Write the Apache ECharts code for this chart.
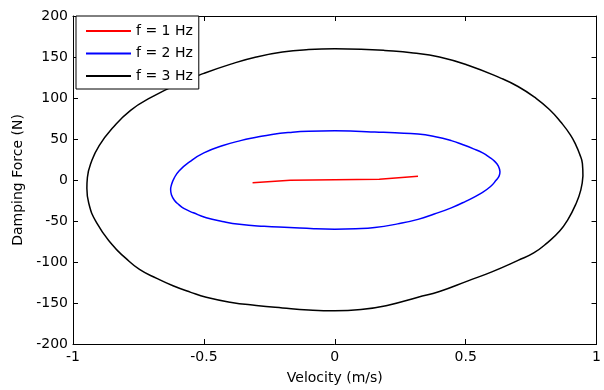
<!DOCTYPE html>
<html>
<head>
<meta charset="utf-8">
<script src="https://cdn.jsdelivr.net/npm/echarts@6/dist/echarts.min.js"></script>
<style>
  html, body { margin: 0; padding: 0; background: #fff; }
  #chart { width: 604px; height: 390px; }
</style>
</head>
<body>
<div id="chart"></div>
<script>
// velocity (m/s), damping force (N)
const xTicks = [-1, -0.5, 0, 0.5, 1]
const yTicks = [-200, -150, -100, -50, 0, 50, 100, 150, 200]

const seriesNames = ['f = 1 Hz', 'f = 2 Hz', 'f = 3 Hz']
const seriesColors = ['#ff0000', '#0000ff', '#000000']

const f1Vel = [-0.314, -0.17, 0, 0.17, 0.318]
const f1Force = [-3.4, -0.3, 0.3, 0.8, 4.6]

const f2Vel = [0.631, 0.625, 0.61, 0.59, 0.565, 0.53, 0.49, 0.445, 0.38, 0.318, 0.23, 0.153, 0.08, 0, -0.1, -0.173, -0.24, -0.3, -0.36, -0.427, -0.5, -0.555, -0.595, -0.614, -0.624, -0.627, -0.624, -0.612, -0.596, -0.575, -0.54, -0.491, -0.43, -0.364, -0.27, -0.173, -0.08, 0, 0.08, 0.153, 0.24, 0.318, 0.38, 0.445, 0.5, 0.56, 0.595, 0.617, 0.628, 0.631]
const f2Force = [10, 17, 23, 28, 33, 38, 43, 48, 53, 56, 57.5, 58.5, 59.5, 60, 59.5, 58, 55.5, 52, 48, 42, 33, 22, 11, 2, -6, -12, -18, -25, -30, -35, -40, -46, -50.5, -54, -56.5, -58, -59.5, -60, -59.5, -58, -53.5, -48, -41.5, -34, -26, -16, -8, 0, 5, 10]

const f3Vel = [0.948, 0.946, 0.935, 0.922, 0.9, 0.865, 0.82, 0.763, 0.7, 0.636, 0.509, 0.4, 0.3, 0.191, 0.1, 0, -0.1, -0.2, -0.3, -0.4, -0.5, -0.6, -0.7, -0.78, -0.85, -0.9, -0.93, -0.945, -0.947, -0.94, -0.91, -0.85, -0.8, -0.746, -0.68, -0.618, -0.55, -0.491, -0.4, -0.3, -0.2, -0.1, 0, 0.1, 0.2, 0.318, 0.4, 0.509, 0.6, 0.7, 0.76, 0.814, 0.86, 0.891, 0.92, 0.94, 0.948]
const f3Force = [5, 20, 32, 42, 55, 70, 86, 101, 114, 124, 140, 150, 155, 158, 159.5, 160, 159, 156, 150, 141, 130, 117, 101, 85, 63, 42, 22, 3, -10, -28, -52, -79, -95, -109, -120, -129, -137, -143, -149, -153, -156, -158.5, -159.5, -158, -153, -143, -136, -123, -112, -98, -89, -76, -62, -48, -30, -12, 5]

const pairs = (xs, ys) => xs.map((x, i) => [x, ys[i]])
const allData = [pairs(f1Vel, f1Force), pairs(f2Vel, f2Force), pairs(f3Vel, f3Force)]

const font = 'DejaVu Sans, sans-serif'
const axisLine = { show: true, onZero: false, lineStyle: { color: '#000', width: 1 } }
const tick = { show: true, inside: true, length: 5, lineStyle: { color: '#000' } }

const myChart = echarts.init(document.getElementById('chart'))
myChart.setOption({
  backgroundColor: '#fff',
  animation: false,
  textStyle: { fontFamily: font },
  grid: { left: 73, right: 7, top: 16, bottom: 45 },
  legend: {
    orient: 'vertical',
    left: 76,
    top: 16,
    padding: [8, 6, 6, 9],
    itemGap: 8.5,
    itemWidth: 45,
    itemHeight: 14,
    backgroundColor: '#fff',
    borderColor: '#000',
    borderWidth: 1,
    itemStyle: { opacity: 0 },
    textStyle: { fontSize: 14, color: '#000', fontFamily: font },
    data: seriesNames,
  },
  xAxis: [
    {
      type: 'value',
      min: xTicks[0],
      max: xTicks[xTicks.length - 1],
      interval: 0.5,
      name: 'Velocity (m/s)',
      nameLocation: 'middle',
      nameGap: 27,
      nameTextStyle: { fontSize: 14, color: '#000' },
      axisLine: axisLine,
      axisTick: tick,
      splitLine: { show: false },
      axisLabel: { fontSize: 14, color: '#000', margin: 6, formatter: (v) => String(v) },
    },
    {
      type: 'value',
      position: 'top',
      min: xTicks[0],
      max: xTicks[xTicks.length - 1],
      interval: 0.5,
      axisLine: axisLine,
      axisTick: tick,
      splitLine: { show: false },
      axisLabel: { show: false },
    },
  ],
  yAxis: [
    {
      type: 'value',
      min: yTicks[0],
      max: yTicks[yTicks.length - 1],
      interval: 50,
      name: 'Damping Force (N)',
      nameLocation: 'middle',
      nameGap: 47,
      nameTextStyle: { fontSize: 14, color: '#000' },
      axisLine: axisLine,
      axisTick: tick,
      splitLine: { show: false },
      axisLabel: { fontSize: 14, color: '#000', margin: 5 },
    },
    {
      type: 'value',
      position: 'right',
      min: yTicks[0],
      max: yTicks[yTicks.length - 1],
      interval: 50,
      axisLine: axisLine,
      axisTick: tick,
      splitLine: { show: false },
      axisLabel: { show: false },
    },
  ],
  series: allData.map((d, i) => ({
    name: seriesNames[i],
    type: 'line',
    data: d,
    symbol: 'none',
    smooth: i === 0 ? false : 0.5,
    lineStyle: { color: seriesColors[i], width: 1.5 },
    itemStyle: { color: seriesColors[i] },
  })),
})
</script>
</body>
</html>
